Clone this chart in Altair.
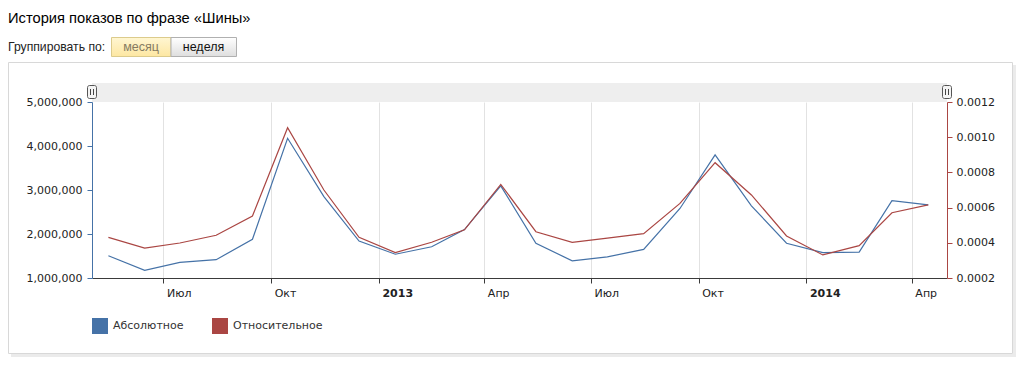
import altair as alt
import pandas as pd

# ---------------- data ----------------
months = [
    "2012-05-15", "2012-06-15", "2012-07-15", "2012-08-15", "2012-09-15", "2012-10-15",
    "2012-11-15", "2012-12-15", "2013-01-15", "2013-02-15", "2013-03-15", "2013-04-15",
    "2013-05-15", "2013-06-15", "2013-07-15", "2013-08-15", "2013-09-15", "2013-10-15",
    "2013-11-15", "2013-12-15", "2014-01-15", "2014-02-15", "2014-03-15", "2014-04-15",
]
absolute = [
    1507000, 1175000, 1357000, 1416000, 1880000, 4175000,
    2850000, 1840000, 1540000, 1710000, 2100000, 3095000,
    1790000, 1390000, 1480000, 1650000, 2580000, 3800000,
    2640000, 1790000, 1575000, 1590000, 2760000, 2660000,
]
relative = [
    0.000431, 0.000370, 0.000399, 0.000443, 0.000552, 0.001054,
    0.000700, 0.000431, 0.000344, 0.000403, 0.000474, 0.000732,
    0.000463, 0.000403, 0.000427, 0.000452, 0.000624, 0.000855,
    0.000672, 0.000439, 0.000331, 0.000384, 0.000571, 0.000615,
]
series_names = ["Абсолютное", "Относительное"]
series_colors = ["#4572A7", "#AA4643"]
month_names = ["Янв", "Фев", "Мар", "Апр", "Май", "Июн", "Июл", "Авг", "Сен", "Окт", "Ноя", "Дек"]
tick_months = [(2012, 7), (2012, 10), (2013, 1), (2013, 4), (2013, 7), (2013, 10), (2014, 1), (2014, 4)]
left_ticks = [1000000, 2000000, 3000000, 4000000, 5000000]
right_ticks = [0.0002, 0.0004, 0.0006, 0.0008, 0.0010, 0.0012]
title_text = "История показов по фразе «Шины»"
group_label = "Группировать по:"
button_labels = ["месяц", "неделя"]

# ---------------- layout ----------------
W, H = 855, 176
PAD = {"left": 92, "top": 102, "right": 77, "bottom": 88}
AXIS_FONT = "DejaVu Sans"
UI_FONT = "Liberation Sans"

df = pd.DataFrame({"date": months, "abs": absolute, "rel": relative})
base = alt.Chart(df)

x_enc = alt.X(
    "date:T",
    scale=alt.Scale(
        type="utc",
        domain=[alt.DateTime(year=2012, month=5, date=1, utc=True),
                alt.DateTime(year=2014, month=5, date=1, utc=True)],
    ),
    axis=alt.Axis(
        title=None,
        values=[alt.DateTime(year=y, month=m, date=1, utc=True) for y, m in tick_months],
        labelExpr="utcmonth(datum.value) == 0 ? utcFormat(datum.value, '%Y') : "
                  + str(month_names) + "[utcmonth(datum.value)]",
        labelFontWeight={"condition": {"test": "utcmonth(datum.value) == 0", "value": "bold"},
                         "value": "normal"},
        grid=True, gridColor="#e2e2e2", gridWidth=1,
        domainColor="#3a3a3a", tickColor="#3a3a3a", tickSize=5,
        labelFont=AXIS_FONT, labelFontSize=11, labelColor="#222",
        labelAlign="left", labelOffset=3,
        labelPadding=4, labelFlush=False, labelOverlap=False,
    ),
)

color_scale = alt.Scale(domain=series_names, range=series_colors)

abs_line = base.transform_calculate(series="'" + series_names[0] + "'").mark_line(strokeWidth=1.2).encode(
    x=x_enc,
    y=alt.Y("abs:Q",
            scale=alt.Scale(domain=[1000000, 5000000], nice=False),
            axis=alt.Axis(orient="left", title=None, values=left_ticks, format=",d", grid=False,
                          domainColor=series_colors[0], tickColor=series_colors[0], tickSize=5,
                          labelFont=AXIS_FONT, labelFontSize=11, labelColor="#222", labelPadding=5)),
    color=alt.Color("series:N", scale=color_scale,
                    legend=alt.Legend(title=None, orient="none", legendX=0, legendY=216,
                                      direction="horizontal", symbolType="square",
                                      symbolSize=16, symbolStrokeWidth=12,
                                      labelFont=AXIS_FONT, labelFontSize=11, labelColor="#333",
                                      labelOffset=5, columnPadding=10)),
)

rel_line = base.transform_calculate(series="'" + series_names[1] + "'").mark_line(strokeWidth=1.2).encode(
    x=x_enc,
    y=alt.Y("rel:Q",
            scale=alt.Scale(domain=[0.0002, 0.0012], nice=False, zero=False),
            axis=alt.Axis(orient="right", title=None, values=right_ticks, format=".4f", grid=False,
                          domainColor=series_colors[1], tickColor=series_colors[1], tickSize=5,
                          labelFont=AXIS_FONT, labelFontSize=11, labelColor="#222", labelPadding=4)),
    color=alt.Color("series:N", scale=color_scale),
)


# ---------------- page chrome (not data) ----------------
def one():
    return alt.Chart(alt.Data(values=[{"k": 0}]))


def box(x1, x2, y1, y2, **kw):
    return one().mark_rect(**kw).encode(
        x=alt.value(x1), x2=alt.value(x2), y=alt.value(y1), y2=alt.value(y2))


def label(txt, x, y, **kw):
    return one().mark_text(**kw).encode(x=alt.value(x), y=alt.value(y), text=alt.value(txt))


shadow_r = box(921, 924, -37, 254, fill="#ebebeb")
shadow_b = box(-81, 924, 252, 255, fill="#ebebeb")
frame = box(-83.5, 920.5, -39.5, 251.5, fill="transparent", stroke="#d8d8d8", strokeWidth=1)

scroll = box(0, W, -19, 0, fill="#eeeeee")


def handle(cx):
    h = box(cx - 4.5, cx + 4.5, -16.5, -3.5, fill="#f4f4f4", stroke="#555", strokeWidth=1,
            cornerRadius=2)
    l1 = one().mark_rule(color="#444", strokeWidth=1).encode(
        x=alt.value(cx - 1.5), y=alt.value(-13), y2=alt.value(-7))
    l2 = one().mark_rule(color="#444", strokeWidth=1).encode(
        x=alt.value(cx + 1.5), y=alt.value(-13), y2=alt.value(-7))
    return [h, l1, l2]


yellow = alt.Gradient(gradient="linear", x1=0, y1=0, x2=0, y2=1,
                      stops=[alt.GradientStop(color="#fff6d2", offset=0),
                             alt.GradientStop(color="#fde7a2", offset=1)])
grey = alt.Gradient(gradient="linear", x1=0, y1=0, x2=0, y2=1,
                    stops=[alt.GradientStop(color="#ffffff", offset=0),
                           alt.GradientStop(color="#dedede", offset=1)])

btn1 = box(19.5, 79, -64.5, -45.5, fill=yellow, stroke="#dccb8c", strokeWidth=1)
btn2 = box(79, 144.5, -64.5, -45.5, fill=grey, stroke="#b0b0b0", strokeWidth=1)

title = label(title_text, -84, -79, align="left", baseline="alphabetic",
              font=UI_FONT, fontSize=14.7, color="#000")
group = label(group_label, -84, -51, align="left", baseline="alphabetic",
              font=UI_FONT, fontSize=12.2, color="#222")
b1t = label(button_labels[0], 49, -51, align="center", baseline="alphabetic",
            font=UI_FONT, fontSize=12.5, color="#857b62")
b2t = label(button_labels[1], 111.5, -51, align="center", baseline="alphabetic",
            font=UI_FONT, fontSize=12.5, color="#111")

chrome = [shadow_r, shadow_b, frame, scroll] + handle(0) + handle(W) + [btn1, btn2, title, group, b1t, b2t]

chart = alt.layer(
    *chrome, abs_line, rel_line
).resolve_scale(
    y="independent"
).properties(
    width=W, height=H,
    autosize=alt.AutoSizeParams(type="none"),
    padding=PAD,
    background="white",
).configure_view(stroke=None)

chart.save("out.html", embed_options={"renderer": "svg", "actions": False})
